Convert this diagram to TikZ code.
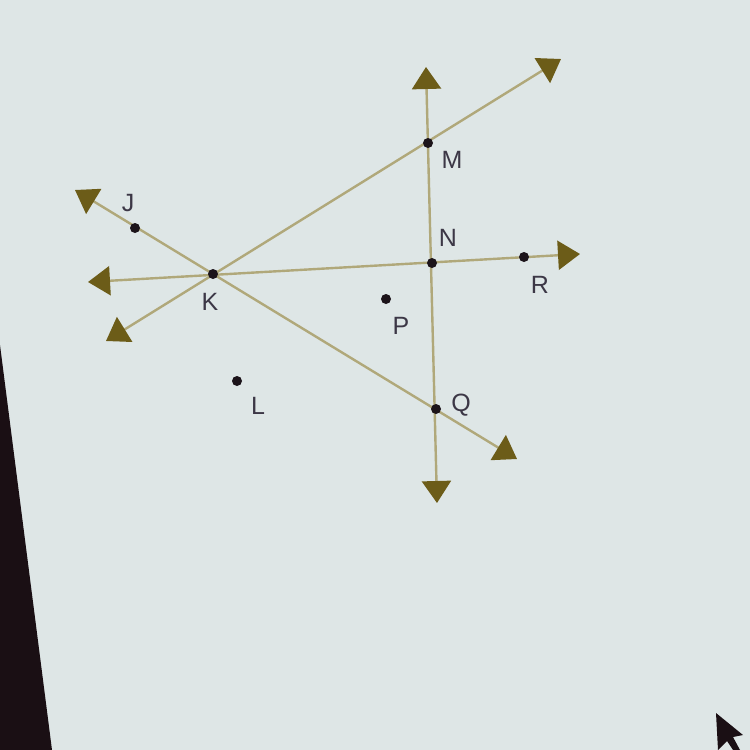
\documentclass[tikz,border=0pt]{standalone}
\usepackage{fontspec}
\setmainfont{Liberation Sans}
\usetikzlibrary{arrows.meta}
\definecolor{bg}{RGB}{222,230,230}
\definecolor{linec}{RGB}{176,168,122}
\definecolor{tipc}{RGB}{108,92,24}
\definecolor{ptc}{RGB}{28,20,26}
\definecolor{labc}{RGB}{60,55,70}
\definecolor{darkedge}{RGB}{26,15,20}
\tikzset{
  geoline/.style={draw=linec, line width=2.4pt,
    {Triangle[length=22pt,width=29pt,color=tipc]}-{Triangle[length=22pt,width=29pt,color=tipc]}},
  pt/.style={circle, fill=ptc, inner sep=0pt, minimum size=10pt},
  lab/.style={text=labc, font=\fontsize{25}{25}\selectfont, inner sep=0pt}
}
\begin{document}
\begin{tikzpicture}[x=1pt,y=-1pt]
\fill[bg] (0,0) rectangle (750,750);
\useasboundingbox (0,0) rectangle (750,750);
% dark screen edge
\fill[darkedge] (0,345) -- (52,750) -- (0,750) -- cycle;
% line end coordinates
\coordinate (vt) at (426,67);
\coordinate (vb) at (437,503);
\coordinate (mt) at (561,59);
\coordinate (mb) at (106,341);
\coordinate (jt) at (75,190);
\coordinate (jb) at (517,459);
\coordinate (hl) at (88,282);
\coordinate (hr) at (580,254);
% lines
\draw[geoline] (vt) -- (vb);
\draw[geoline] (mb) -- (mt);
\draw[geoline] (jt) -- (jb);
\draw[geoline] (hl) -- (hr);
% points
\node[pt] (K) at (213,274) {};
\node[pt] (J) at (135,228) {};
\node[pt] (M) at (428,143) {};
\node[pt] (N) at (432,263) {};
\node[pt] (R) at (524,257) {};
\node[pt] (P) at (386,299) {};
\node[pt] (L) at (237,381) {};
\node[pt] (Q) at (436,409) {};
% labels
\node[lab] (lJ) at (128,203) {J};
\node[lab] (lK) at (210,302) {K};
\node[lab] (lM) at (452,160) {M};
\node[lab] (lN) at (448,238) {N};
\node[lab] (lR) at (540,285) {R};
\node[lab] (lP) at (401,326) {P};
\node[lab] (lL) at (258,406) {L};
\node[lab] (lQ) at (461,405) {Q};
% mouse cursor
\fill[darkedge] (716,713) -- (718,750) -- (727,741) -- (733,750) -- (740,750) -- (733,737) -- (743,735) -- cycle;
\end{tikzpicture}
\end{document}
